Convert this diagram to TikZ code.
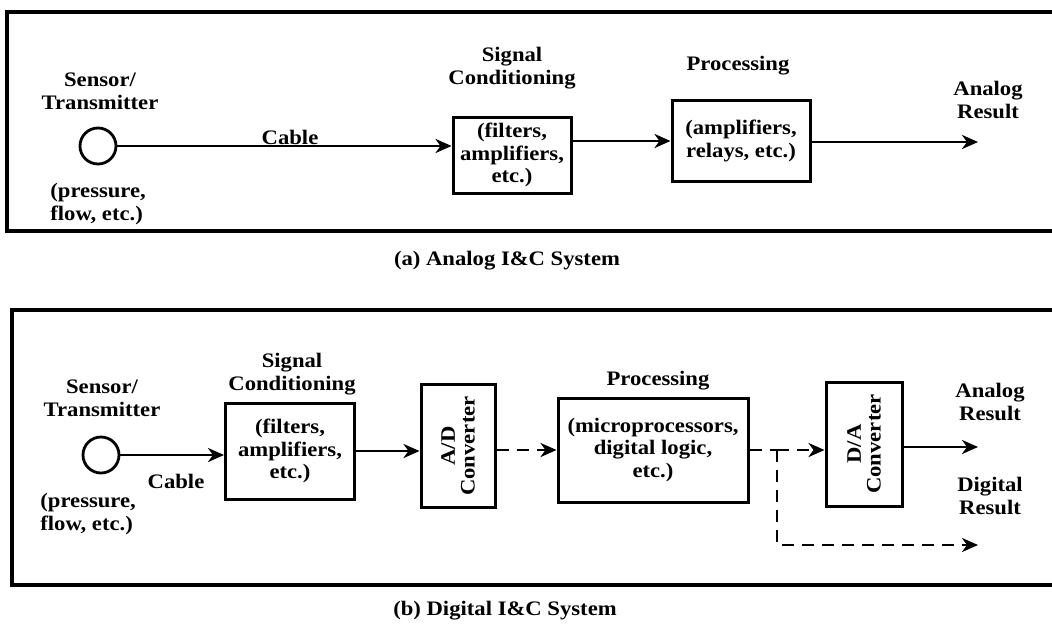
\documentclass[tikz,border=0pt]{standalone}
\usepackage{fontspec}
\setmainfont[FakeStretch=1.1]{Liberation Serif}
\usetikzlibrary{arrows.meta,scopes}
\tikzset{
  >={Stealth[length=8pt, width=7pt, inset=2.5pt]},
  tx/.style={font=\bfseries\fontsize{10.3}{11.3}\selectfont, align=center, inner sep=1pt},
  bx/.style={tx, rectangle, draw, line width=1.5pt},
  sn/.style={circle, draw, line width=1.4pt, minimum size=18pt, inner sep=0pt},
  fr/.style={draw, line width=2pt},
  ln/.style={draw, line width=1.4pt},
  dl/.style={ln, dash pattern=on 6pt off 4pt}
}
\begin{document}
\begin{tikzpicture}[x=0.5pt, y=-0.5pt]
  \useasboundingbox (0,0) rectangle (1052,631);
  \clip (0,0) rectangle (1052,631);

  % (a) analog system
  \draw[fr] (7,12) rectangle (1075,231);
  \node[sn] (sensA) at (98,146) {};
  \node[tx] (sensAtx) at (100,91) {Sensor/\\Transmitter};
  \node[tx, anchor=west, align=left] (sensAsub) at (48,204) {(pressure,\\flow, etc.)};
  \node[tx] (cabA) at (290,137) {Cable};
  \node[bx, minimum width=59pt, minimum height=38pt] (scA) at (512,155) {(filters,\\amplifiers,\\etc.)};
  \node[tx] (scAtx) at (512,68) {Signal\\Conditioning};
  \node[bx, minimum width=69pt, minimum height=40.5pt] (prA) at (741,141) {(amplifiers,\\relays, etc.)};
  \node[tx] (prAtx) at (738,66) {Processing};
  \coordinate (outA) at (978,142);
  \node[tx] (outAtx) at (988,100) {Analog\\Result};
  \node[tx] (capA) at (507,261) {(a) Analog I\&C System};

  {[->, ln]
  \draw (sensA) -- (sensA -| scA.west);
  \draw (scA.east |- prA) -- (prA.west);
  \draw (prA.east |- outA) -- (outA);
  }

  % (b) digital system
  \draw[fr] (12,310) rectangle (1075,585);
  \node[sn] (sensB) at (101,455) {};
  \node[tx] (sensBtx) at (102,398) {Sensor/\\Transmitter};
  \node[tx, anchor=west, align=left] (sensBsub) at (38,514) {(pressure,\\flow, etc.)};
  \node[tx] (cabB) at (176,481) {Cable};
  \node[bx, minimum width=64.5pt, minimum height=48pt] (scB) at (290,451) {(filters,\\amplifiers,\\etc.)};
  \node[tx] (scBtx) at (292,374) {Signal\\Conditioning};
  \node[bx, minimum width=37pt, minimum height=61.5pt] (adB) at (458,446) {\rotatebox{90}{\shortstack{A/D\\Converter}}};
  \node[bx, minimum width=95pt, minimum height=52pt] (prB) at (653,450) {(microprocessors,\\digital logic,\\etc.)};
  \node[tx] (prBtx) at (658,381) {Processing};
  \node[bx, minimum width=38pt, minimum height=62pt] (daB) at (864,444) {\rotatebox{90}{\shortstack{D/A\\Converter}}};
  \coordinate (br) at (777,450);
  \coordinate (brd) at (777,545);
  \coordinate (outD) at (978,545);
  \coordinate (outB) at (978,447);
  \node[tx] (outBtx) at (990,402) {Analog\\Result};
  \node[tx] (outDtx) at (990,496) {Digital\\Result};
  \node[tx] (capB) at (505,611) {(b) Digital I\&C System};

  {[->, ln]
  \draw (sensB) -- (sensB -| scB.west);
  \draw (scB.east) -- (scB.east -| adB.west);
  \draw (daB.east |- outB) -- (outB);
  }
  {[dl]
  \draw[->] (adB.east |- br) -- (br -| prB.west);
  \draw (prB.east |- br) -- (br);
  \draw[->] (br) -- (br -| daB.west);
  \draw[->] (br) -- (brd) -- (outD);
  }
\end{tikzpicture}
\end{document}
